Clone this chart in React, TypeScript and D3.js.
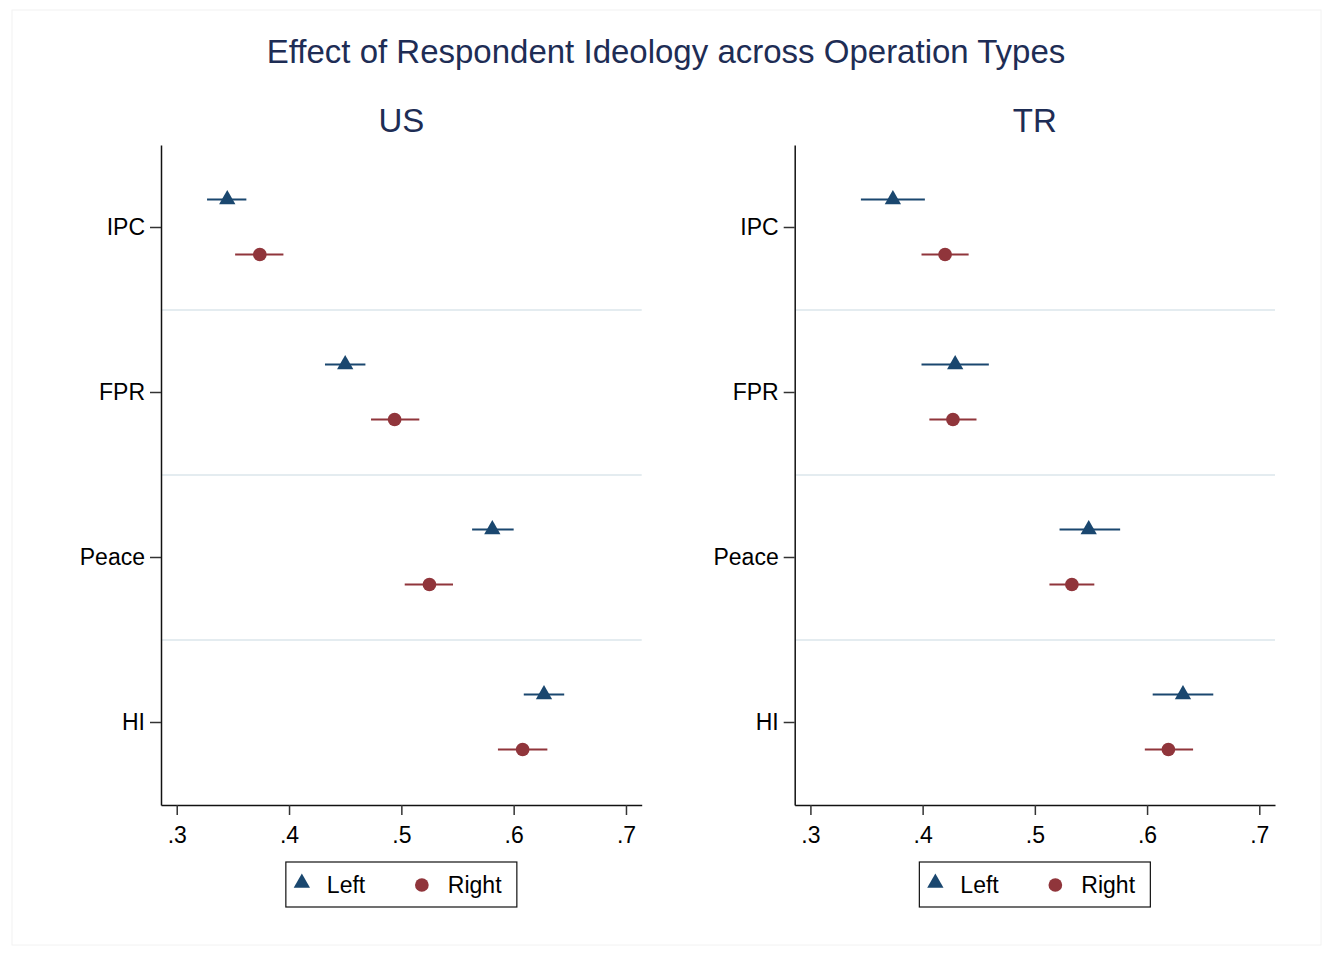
import React, { useRef, useEffect } from "react";
import * as d3 from "d3";

// categories, top to bottom
const categories = ["IPC", "FPR", "Peace", "HI"];
const seriesNames = ["Left", "Right"];
const xTicks = [0.3, 0.4, 0.5, 0.6, 0.7];

// US panel: point estimates and 95% CI
const usLeftEst = [0.345, 0.45, 0.581, 0.627];
const usLeftLo = [0.327, 0.432, 0.563, 0.609];
const usLeftHi = [0.362, 0.468, 0.6, 0.645];
const usRightEst = [0.374, 0.494, 0.525, 0.608];
const usRightLo = [0.352, 0.473, 0.503, 0.586];
const usRightHi = [0.395, 0.516, 0.546, 0.63];

// TR panel
const trLeftEst = [0.3735, 0.429, 0.548, 0.632];
const trLeftLo = [0.345, 0.399, 0.522, 0.605];
const trLeftHi = [0.402, 0.459, 0.576, 0.659];
const trRightEst = [0.42, 0.427, 0.533, 0.619];
const trRightLo = [0.399, 0.406, 0.513, 0.598];
const trRightHi = [0.441, 0.448, 0.553, 0.641];

const FONT = "'Liberation Sans', Arial, Helvetica, sans-serif";
const NAVY = "#1a476f";
const MAROON = "#90353b";
const TITLE_COLOR = "#1e2d55";

type Row = { cat: string; series: string; est: number; lo: number; hi: number };

const buildRows = (lE: number[], lL: number[], lH: number[], rE: number[], rL: number[], rH: number[]): Row[] => {
  const rows: Row[] = [];
  categories.forEach((c, i) => {
    rows.push({ cat: c, series: "Left", est: lE[i], lo: lL[i], hi: lH[i] });
    rows.push({ cat: c, series: "Right", est: rE[i], lo: rL[i], hi: rH[i] });
  });
  return rows;
};

const panels = [
  { name: "US", left: 161, right: 641.7, rows: buildRows(usLeftEst, usLeftLo, usLeftHi, usRightEst, usRightLo, usRightHi) },
  { name: "TR", left: 794.7, right: 1275, rows: buildRows(trLeftEst, trLeftLo, trLeftHi, trRightEst, trRightLo, trRightHi) },
];

const App = () => {
  const svgRef = useRef<SVGSVGElement>(null);
  const width = 1330;
  const height = 956;

  useEffect(() => {
    const svg = d3.select(svgRef.current);
    svg.selectAll("*").remove();

    svg.append("rect").attr("width", width).attr("height", height).attr("fill", "#fff");
    // faint outer frame
    svg.append("rect")
      .attr("x", 12).attr("y", 10).attr("width", 1309).attr("height", 935)
      .attr("fill", "none").attr("stroke", "#f2f2f2").attr("stroke-width", 1);

    svg.append("text")
      .attr("x", 666)
      .attr("y", 63)
      .attr("text-anchor", "middle")
      .style("font-family", FONT)
      .style("font-size", "33px")
      .attr("fill", TITLE_COLOR)
      .text("Effect of Respondent Ideology across Operation Types");

    const top = 145;
    const bottom = 805;

    const yScale = d3.scaleBand().domain(categories).range([top, bottom]).padding(0);
    const offset = d3.scalePoint().domain(seriesNames).range([-28, 27]);
    const tri = d3.symbol().type(d3.symbolTriangle).size(115);
    const circ = d3.symbol().type(d3.symbolCircle).size(148);

    panels.forEach((p) => {
      const xScale = d3.scaleLinear().domain([0.286, 0.714]).range([p.left, p.right]);
      const g = svg.append("g");
      const cx = (p.left + p.right) / 2;

      g.append("text")
        .attr("x", cx)
        .attr("y", 132)
        .attr("text-anchor", "middle")
        .style("font-family", FONT)
        .style("font-size", "33px")
        .attr("fill", TITLE_COLOR)
        .text(p.name);

      // separators between categories
      g.selectAll(".sep")
        .data(categories.slice(1))
        .enter()
        .append("line")
        .attr("x1", p.left + 1)
        .attr("x2", p.right)
        .attr("y1", (d) => yScale(d)!)
        .attr("y2", (d) => yScale(d)!)
        .attr("stroke", "#e4ecf0")
        .attr("stroke-width", 2);

      // axes
      const xAxis = g.append("g")
        .attr("transform", `translate(0,${bottom})`)
        .call(
          d3.axisBottom(xScale)
            .tickValues(xTicks)
            .tickSize(10)
            .tickSizeOuter(0)
            .tickPadding(12)
            .tickFormat((d) => d3.format(".1f")(d as number).replace(/^0/, ""))
        );
      const yAxis = g.append("g")
        .attr("transform", `translate(${p.left},0)`)
        .call(d3.axisLeft(yScale).tickSize(11).tickSizeOuter(0).tickPadding(5));

      [xAxis, yAxis].forEach((a) => {
        a.select(".domain").attr("stroke", "#111").attr("stroke-width", 1.5);
        a.selectAll(".tick line").attr("stroke", "#333").attr("stroke-width", 1.5);
        a.selectAll(".tick text")
          .attr("fill", "#000")
          .style("font-family", FONT)
          .style("font-size", "23px");
      });

      // CI lines
      g.selectAll(".ci")
        .data(p.rows)
        .enter()
        .append("line")
        .attr("x1", (d) => xScale(d.lo))
        .attr("x2", (d) => xScale(d.hi))
        .attr("y1", (d) => yScale(d.cat)! + yScale.bandwidth() / 2 + offset(d.series)!)
        .attr("y2", (d) => yScale(d.cat)! + yScale.bandwidth() / 2 + offset(d.series)!)
        .attr("stroke", (d) => (d.series === "Left" ? NAVY : MAROON))
        .attr("stroke-width", 2);

      // markers
      g.selectAll(".pt")
        .data(p.rows)
        .enter()
        .append("path")
        .attr("d", (d) => (d.series === "Left" ? tri() : circ()))
        .attr("transform", (d) => {
          const y = yScale(d.cat)! + yScale.bandwidth() / 2 + offset(d.series)!;
          return `translate(${xScale(d.est)},${y})`;
        })
        .attr("fill", (d) => (d.series === "Left" ? NAVY : MAROON));

      // legend
      const lw = 231;
      const lx = cx - lw / 2;
      const leg = g.append("g").attr("transform", `translate(${lx},862)`);
      leg.append("rect")
        .attr("width", lw)
        .attr("height", 45)
        .attr("fill", "#fff")
        .attr("stroke", "#111")
        .attr("stroke-width", 1.2);
      leg.append("path").attr("d", tri()).attr("transform", "translate(16,21)").attr("fill", NAVY);
      leg.append("text")
        .attr("x", 41).attr("y", 31)
        .style("font-family", FONT).style("font-size", "23px")
        .attr("fill", "#000").text("Left");
      leg.append("path").attr("d", circ()).attr("transform", "translate(136,23)").attr("fill", MAROON);
      leg.append("text")
        .attr("x", 162).attr("y", 31)
        .style("font-family", FONT).style("font-size", "23px")
        .attr("fill", "#000").text("Right");
    });
  }, []);

  return (
    <div style={{ position: "absolute", left: 0, top: 0 }}>
      <svg ref={svgRef} width={width} height={height}></svg>
    </div>
  );
};

export default App;
